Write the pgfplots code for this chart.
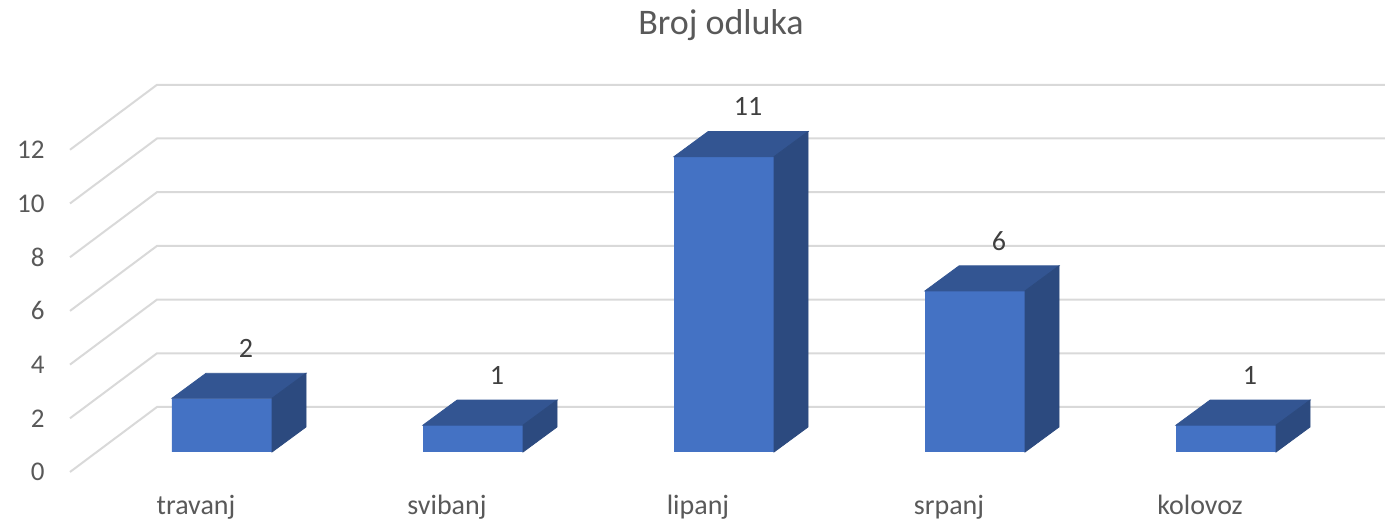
\documentclass[border=0pt]{standalone}
\usepackage{fontspec}
\setmainfont{Carlito}
\usepackage{pgfplots}
\usepackage{pgfplotstable}
\pgfplotsset{compat=1.18}
\definecolor{barfront}{HTML}{4472C4}
\definecolor{bartop}{HTML}{335592}
\definecolor{barside}{HTML}{2C4A7F}
\definecolor{gridc}{HTML}{D9D9D9}
\definecolor{txt}{HTML}{595959}
\definecolor{lbl}{HTML}{404040}

\pgfplotstableread{
x y
0 2
1 1
2 11
3 6
4 1
}\datatable

\begin{document}
\begin{tikzpicture}[x=0.5pt,y=0.5pt]
\path[use as bounding box] (-222,-70) rectangle (1163,452);
\begin{axis}[
  at={(0,0)}, anchor=origin,
  x=125.5pt, y=13.425pt,
  xmin=-0.5, xmax=4.4, ymin=0, ymax=12,
  clip=false,
  /pgf/number format/assume math mode=true,
  axis line style={draw=none},
  major tick length=0pt,
  tick style={draw=none},
  ytick={0,2,4,6,8,10,12},
  yticklabel style={anchor=east, inner sep=0pt, xshift=-25.75pt, yshift=-10pt,
    font=\fontsize{13.5}{16}\selectfont, text=txt},
  xtick={0,1,2,3,4},
  xticklabels={travanj,svibanj,lipanj,srpanj,kolovoz},
  xticklabel style={anchor=base, inner sep=0pt, xshift=-13pt, yshift=-31.5pt,
    font=\fontsize{14}{16}\selectfont, text=txt},
]
\pgfplotsinvokeforeach{0,2,4,6,8,10,12}{
  \draw[gridc, line width=1pt]
    ([shift={(-13.25pt,-10pt)}]axis cs:-0.5,#1)
    -- ([shift={(30.25pt,22.5pt)}]axis cs:-0.5,#1)
    -- ([shift={(30.25pt,22.5pt)}]axis cs:4.6,#1);
}
\addplot[ybar, bar width=50pt, fill=barfront, draw=none,
  nodes near coords,
  every node near coord/.append style={anchor=center, xshift=12pt, yshift=25pt,
    font=\fontsize{14}{16}\selectfont, text=lbl}]
  table[x=x, y=y] {\datatable};
\addplot[scatter, only marks, mark=*, mark size=0.1pt,
  visualization depends on={rawy \as \rawval},
  scatter/@pre marker code/.code={
    \pgfmathsetmacro{\hb}{12.5-\rawval*13.425}
    \pgfmathsetmacro{\hf}{-\rawval*13.425}
    \fill[bartop] (-25pt,0pt) -- (25pt,0pt) -- (42pt,12.5pt) -- (-8pt,12.5pt) -- cycle;
    \fill[barside] (25pt,0pt) -- (42pt,12.5pt) -- (42pt,\hb pt) -- (25pt,\hf pt) -- cycle;
    \pgfscope\pgfsetfillopacity{0}\pgfsetstrokeopacity{0}
  },
  scatter/@post marker code/.code={\endpgfscope}]
  table[x=x, y=y] {\datatable};
\end{axis}
\node[anchor=base, font=\fontsize{18}{21}\selectfont, text=txt] at (499,417) {Broj odluka};
\end{tikzpicture}
\end{document}
